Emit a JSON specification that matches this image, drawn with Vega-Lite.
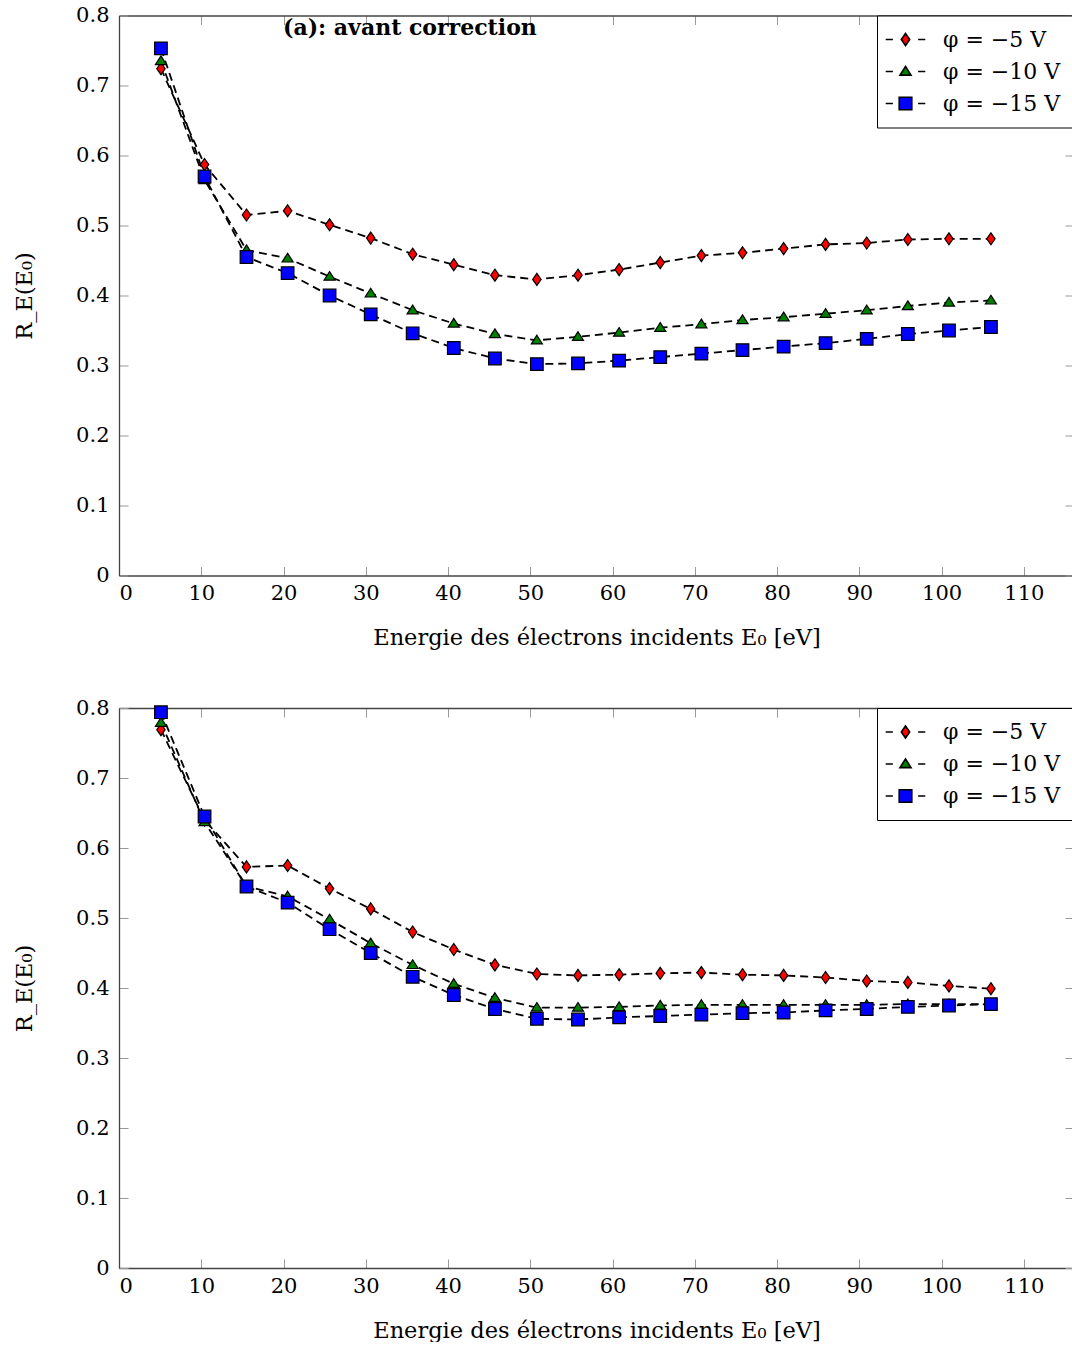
{
  "$schema": "https://vega.github.io/schema/vega-lite/v6.json",
  "padding": {"left": 13, "top": 4.5, "right": 0, "bottom": 0},
  "config": {
    "font": "DejaVu Serif",
    "view": {"stroke": null},
    "axis": {
      "labelFont": "DejaVu Serif", "titleFont": "DejaVu Serif",
      "labelFontSize": 21, "titleFontSize": 22.5, "labelColor": "black", "titleColor": "black",
      "titleFontWeight": "normal", "grid": false, "tickColor": "#999", "tickSize": -9, "tickWidth": 1,
      "domainColor": "#444", "domainWidth": 1.3
    },
    "legend": {
      "title": null, "orient": "top-right", "offset": 0, "padding": 13, "strokeColor": "black", "fillColor": "white",
      "labelFont": "DejaVu Serif", "labelFontSize": 22, "labelColor": "black",
      "symbolStrokeColor": "black", "symbolStrokeWidth": 1.6,
      "symbolOffset": 4.5, "labelOffset": 26.5, "rowPadding": 10
    }
  },
  "datasets": {
    "top": [
      {"serie": "φ = −5 V", "E": 5.1, "R": 0.724}, {"serie": "φ = −5 V", "E": 10.4, "R": 0.587}, {"serie": "φ = −5 V", "E": 15.5, "R": 0.515}, {"serie": "φ = −5 V", "E": 20.5, "R": 0.521}, {"serie": "φ = −5 V", "E": 25.6, "R": 0.501}, {"serie": "φ = −5 V", "E": 30.6, "R": 0.482}, {"serie": "φ = −5 V", "E": 35.7, "R": 0.459}, {"serie": "φ = −5 V", "E": 40.7, "R": 0.444}, {"serie": "φ = −5 V", "E": 45.7, "R": 0.429}, {"serie": "φ = −5 V", "E": 50.8, "R": 0.423}, {"serie": "φ = −5 V", "E": 55.8, "R": 0.429}, {"serie": "φ = −5 V", "E": 60.8, "R": 0.437}, {"serie": "φ = −5 V", "E": 65.8, "R": 0.447}, {"serie": "φ = −5 V", "E": 70.8, "R": 0.457}, {"serie": "φ = −5 V", "E": 75.8, "R": 0.461}, {"serie": "φ = −5 V", "E": 80.8, "R": 0.467}, {"serie": "φ = −5 V", "E": 85.9, "R": 0.473}, {"serie": "φ = −5 V", "E": 90.9, "R": 0.475}, {"serie": "φ = −5 V", "E": 95.9, "R": 0.480}, {"serie": "φ = −5 V", "E": 100.9, "R": 0.481}, {"serie": "φ = −5 V", "E": 106.0, "R": 0.481},
      {"serie": "φ = −10 V", "E": 5.1, "R": 0.735}, {"serie": "φ = −10 V", "E": 10.4, "R": 0.565}, {"serie": "φ = −10 V", "E": 15.5, "R": 0.465}, {"serie": "φ = −10 V", "E": 20.5, "R": 0.453}, {"serie": "φ = −10 V", "E": 25.6, "R": 0.427}, {"serie": "φ = −10 V", "E": 30.6, "R": 0.403}, {"serie": "φ = −10 V", "E": 35.7, "R": 0.379}, {"serie": "φ = −10 V", "E": 40.7, "R": 0.360}, {"serie": "φ = −10 V", "E": 45.7, "R": 0.345}, {"serie": "φ = −10 V", "E": 50.8, "R": 0.336}, {"serie": "φ = −10 V", "E": 55.8, "R": 0.341}, {"serie": "φ = −10 V", "E": 60.8, "R": 0.347}, {"serie": "φ = −10 V", "E": 65.8, "R": 0.354}, {"serie": "φ = −10 V", "E": 70.8, "R": 0.359}, {"serie": "φ = −10 V", "E": 75.8, "R": 0.365}, {"serie": "φ = −10 V", "E": 80.8, "R": 0.369}, {"serie": "φ = −10 V", "E": 85.9, "R": 0.374}, {"serie": "φ = −10 V", "E": 90.9, "R": 0.379}, {"serie": "φ = −10 V", "E": 95.9, "R": 0.385}, {"serie": "φ = −10 V", "E": 100.9, "R": 0.390}, {"serie": "φ = −10 V", "E": 106.0, "R": 0.393},
      {"serie": "φ = −15 V", "E": 5.1, "R": 0.753}, {"serie": "φ = −15 V", "E": 10.4, "R": 0.570}, {"serie": "φ = −15 V", "E": 15.5, "R": 0.455}, {"serie": "φ = −15 V", "E": 20.5, "R": 0.432}, {"serie": "φ = −15 V", "E": 25.6, "R": 0.400}, {"serie": "φ = −15 V", "E": 30.6, "R": 0.373}, {"serie": "φ = −15 V", "E": 35.7, "R": 0.346}, {"serie": "φ = −15 V", "E": 40.7, "R": 0.325}, {"serie": "φ = −15 V", "E": 45.7, "R": 0.310}, {"serie": "φ = −15 V", "E": 50.8, "R": 0.302}, {"serie": "φ = −15 V", "E": 55.8, "R": 0.303}, {"serie": "φ = −15 V", "E": 60.8, "R": 0.307}, {"serie": "φ = −15 V", "E": 65.8, "R": 0.312}, {"serie": "φ = −15 V", "E": 70.8, "R": 0.317}, {"serie": "φ = −15 V", "E": 75.8, "R": 0.322}, {"serie": "φ = −15 V", "E": 80.8, "R": 0.327}, {"serie": "φ = −15 V", "E": 85.9, "R": 0.332}, {"serie": "φ = −15 V", "E": 90.9, "R": 0.338}, {"serie": "φ = −15 V", "E": 95.9, "R": 0.345}, {"serie": "φ = −15 V", "E": 100.9, "R": 0.350}, {"serie": "φ = −15 V", "E": 106.0, "R": 0.355}
    ],
    "bottom": [
      {"serie": "φ = −5 V", "E": 5.1, "R": 0.769}, {"serie": "φ = −5 V", "E": 10.4, "R": 0.640}, {"serie": "φ = −5 V", "E": 15.5, "R": 0.573}, {"serie": "φ = −5 V", "E": 20.5, "R": 0.575}, {"serie": "φ = −5 V", "E": 25.6, "R": 0.542}, {"serie": "φ = −5 V", "E": 30.6, "R": 0.513}, {"serie": "φ = −5 V", "E": 35.7, "R": 0.480}, {"serie": "φ = −5 V", "E": 40.7, "R": 0.455}, {"serie": "φ = −5 V", "E": 45.7, "R": 0.433}, {"serie": "φ = −5 V", "E": 50.8, "R": 0.420}, {"serie": "φ = −5 V", "E": 55.8, "R": 0.418}, {"serie": "φ = −5 V", "E": 60.8, "R": 0.419}, {"serie": "φ = −5 V", "E": 65.8, "R": 0.421}, {"serie": "φ = −5 V", "E": 70.8, "R": 0.422}, {"serie": "φ = −5 V", "E": 75.8, "R": 0.419}, {"serie": "φ = −5 V", "E": 80.8, "R": 0.418}, {"serie": "φ = −5 V", "E": 85.9, "R": 0.415}, {"serie": "φ = −5 V", "E": 90.9, "R": 0.410}, {"serie": "φ = −5 V", "E": 95.9, "R": 0.408}, {"serie": "φ = −5 V", "E": 100.9, "R": 0.403}, {"serie": "φ = −5 V", "E": 106.0, "R": 0.399},
      {"serie": "φ = −10 V", "E": 5.1, "R": 0.779}, {"serie": "φ = −10 V", "E": 10.4, "R": 0.637}, {"serie": "φ = −10 V", "E": 15.5, "R": 0.545}, {"serie": "φ = −10 V", "E": 20.5, "R": 0.531}, {"serie": "φ = −10 V", "E": 25.6, "R": 0.498}, {"serie": "φ = −10 V", "E": 30.6, "R": 0.464}, {"serie": "φ = −10 V", "E": 35.7, "R": 0.433}, {"serie": "φ = −10 V", "E": 40.7, "R": 0.406}, {"serie": "φ = −10 V", "E": 45.7, "R": 0.386}, {"serie": "φ = −10 V", "E": 50.8, "R": 0.372}, {"serie": "φ = −10 V", "E": 55.8, "R": 0.372}, {"serie": "φ = −10 V", "E": 60.8, "R": 0.373}, {"serie": "φ = −10 V", "E": 65.8, "R": 0.375}, {"serie": "φ = −10 V", "E": 70.8, "R": 0.376}, {"serie": "φ = −10 V", "E": 75.8, "R": 0.376}, {"serie": "φ = −10 V", "E": 80.8, "R": 0.376}, {"serie": "φ = −10 V", "E": 85.9, "R": 0.376}, {"serie": "φ = −10 V", "E": 90.9, "R": 0.376}, {"serie": "φ = −10 V", "E": 95.9, "R": 0.377}, {"serie": "φ = −10 V", "E": 100.9, "R": 0.377}, {"serie": "φ = −10 V", "E": 106.0, "R": 0.377},
      {"serie": "φ = −15 V", "E": 5.1, "R": 0.794}, {"serie": "φ = −15 V", "E": 10.4, "R": 0.645}, {"serie": "φ = −15 V", "E": 15.5, "R": 0.545}, {"serie": "φ = −15 V", "E": 20.5, "R": 0.522}, {"serie": "φ = −15 V", "E": 25.6, "R": 0.484}, {"serie": "φ = −15 V", "E": 30.6, "R": 0.450}, {"serie": "φ = −15 V", "E": 35.7, "R": 0.416}, {"serie": "φ = −15 V", "E": 40.7, "R": 0.390}, {"serie": "φ = −15 V", "E": 45.7, "R": 0.370}, {"serie": "φ = −15 V", "E": 50.8, "R": 0.356}, {"serie": "φ = −15 V", "E": 55.8, "R": 0.355}, {"serie": "φ = −15 V", "E": 60.8, "R": 0.358}, {"serie": "φ = −15 V", "E": 65.8, "R": 0.360}, {"serie": "φ = −15 V", "E": 70.8, "R": 0.362}, {"serie": "φ = −15 V", "E": 75.8, "R": 0.364}, {"serie": "φ = −15 V", "E": 80.8, "R": 0.365}, {"serie": "φ = −15 V", "E": 85.9, "R": 0.368}, {"serie": "φ = −15 V", "E": 90.9, "R": 0.370}, {"serie": "φ = −15 V", "E": 95.9, "R": 0.373}, {"serie": "φ = −15 V", "E": 100.9, "R": 0.375}, {"serie": "φ = −15 V", "E": 106.0, "R": 0.377}
    ]
  },
  "spacing": 47.5,
  "resolve": {"scale": {"shape": "independent", "fill": "independent"}},
  "vconcat": [
    {
      "width": 955, "height": 560,
      "title": {"text": "(a): avant correction", "anchor": "start", "frame": "group", "dx": 164, "offset": -35, "fontSize": 22, "fontWeight": "bold", "font": "DejaVu Serif", "color": "black"},
      "data": {"name": "top"},
      "layer": [
        {
          "mark": {"type": "line", "stroke": "black", "strokeWidth": 1.8, "strokeDash": [8, 5]},
          "encoding": {
            "x": {"field": "E", "type": "quantitative", "scale": {"domain": [0, 116.1], "nice": false, "zero": false},
                  "axis": {"values": [0, 10, 20, 30, 40, 50, 60, 70, 80, 90, 100, 110], "title": "Energie des électrons incidents E₀ [eV]", "labelPadding": 16, "titlePadding": 23}},
            "y": {"field": "R", "type": "quantitative", "scale": {"domain": [0, 0.8], "nice": false},
                  "axis": {"values": [0, 0.1, 0.2, 0.3, 0.4, 0.5, 0.6, 0.7, 0.8], "format": "~g", "title": "R_E(E₀)", "labelPadding": 19, "titlePadding": 39}},
            "detail": {"field": "serie"}
          }
        },
        {
          "mark": {"type": "point", "filled": true, "stroke": "black", "strokeWidth": 1.2, "size": 144, "opacity": 1},
          "encoding": {
            "x": {"field": "E", "type": "quantitative", "axis": {"orient": "top", "labels": false, "title": null, "values": [0, 10, 20, 30, 40, 50, 60, 70, 80, 90, 100, 110]}},
            "y": {"field": "R", "type": "quantitative", "axis": {"orient": "right", "labels": false, "title": null, "values": [0, 0.1, 0.2, 0.3, 0.4, 0.5, 0.6, 0.7, 0.8]}},
            "shape": {"field": "serie", "type": "nominal", "legend": null,
                      "scale": {"domain": ["φ = −15 V", "φ = −10 V", "φ = −5 V"], "range": ["M -1.05 -1.05 L 1.05 -1.05 L 1.05 1.05 L -1.05 1.05 Z", "M 0 -0.85 L 0.92 0.6 L -0.92 0.6 Z", "M 0 -1 L 0.7 0 L 0 1 L -0.7 0 Z"]}},
            "fill": {"field": "serie", "type": "nominal",
                     "scale": {"domain": ["φ = −5 V", "φ = −10 V", "φ = −15 V"], "range": ["#ff0000", "#008000", "#0000ff"]},
                     "legend": {"symbolSize": 144,
                        "symbolType": {"expr": "datum.value === 'φ = −5 V' ? 'M -3.3 0 L -2.1 0 M 2.1 0 L 3.3 0 M 0 -1 L 0.7 0 L 0 1 L -0.7 0 Z' : datum.value === 'φ = −10 V' ? 'M -3.3 0 L -2.1 0 M 2.1 0 L 3.3 0 M 0 -0.85 L 0.92 0.6 L -0.92 0.6 Z' : 'M -3.3 0 L -2.1 0 M 2.1 0 L 3.3 0 M -1.05 -1.05 L 1.05 -1.05 L 1.05 1.05 L -1.05 1.05 Z'"}}}
          }
        }
      ],
      "resolve": {"axis": {"x": "independent", "y": "independent"}}
    },
    {
      "width": 955, "height": 560,
      "data": {"name": "bottom"},
      "layer": [
        {
          "mark": {"type": "line", "stroke": "black", "strokeWidth": 1.8, "strokeDash": [8, 5]},
          "encoding": {
            "x": {"field": "E", "type": "quantitative", "scale": {"domain": [0, 116.1], "nice": false, "zero": false},
                  "axis": {"values": [0, 10, 20, 30, 40, 50, 60, 70, 80, 90, 100, 110], "title": "Energie des électrons incidents E₀ [eV]", "labelPadding": 16, "titlePadding": 23}},
            "y": {"field": "R", "type": "quantitative", "scale": {"domain": [0, 0.8], "nice": false},
                  "axis": {"values": [0, 0.1, 0.2, 0.3, 0.4, 0.5, 0.6, 0.7, 0.8], "format": "~g", "title": "R_E(E₀)", "labelPadding": 19, "titlePadding": 39}},
            "detail": {"field": "serie"}
          }
        },
        {
          "mark": {"type": "point", "filled": true, "stroke": "black", "strokeWidth": 1.2, "size": 144, "opacity": 1},
          "encoding": {
            "x": {"field": "E", "type": "quantitative", "axis": {"orient": "top", "labels": false, "title": null, "values": [0, 10, 20, 30, 40, 50, 60, 70, 80, 90, 100, 110]}},
            "y": {"field": "R", "type": "quantitative", "axis": {"orient": "right", "labels": false, "title": null, "values": [0, 0.1, 0.2, 0.3, 0.4, 0.5, 0.6, 0.7, 0.8]}},
            "shape": {"field": "serie", "type": "nominal", "legend": null,
                      "scale": {"domain": ["φ = −15 V", "φ = −10 V", "φ = −5 V"], "range": ["M -1.05 -1.05 L 1.05 -1.05 L 1.05 1.05 L -1.05 1.05 Z", "M 0 -0.85 L 0.92 0.6 L -0.92 0.6 Z", "M 0 -1 L 0.7 0 L 0 1 L -0.7 0 Z"]}},
            "fill": {"field": "serie", "type": "nominal",
                     "scale": {"domain": ["φ = −5 V", "φ = −10 V", "φ = −15 V"], "range": ["#ff0000", "#008000", "#0000ff"]},
                     "legend": {"symbolSize": 144,
                        "symbolType": {"expr": "datum.value === 'φ = −5 V' ? 'M -3.3 0 L -2.1 0 M 2.1 0 L 3.3 0 M 0 -1 L 0.7 0 L 0 1 L -0.7 0 Z' : datum.value === 'φ = −10 V' ? 'M -3.3 0 L -2.1 0 M 2.1 0 L 3.3 0 M 0 -0.85 L 0.92 0.6 L -0.92 0.6 Z' : 'M -3.3 0 L -2.1 0 M 2.1 0 L 3.3 0 M -1.05 -1.05 L 1.05 -1.05 L 1.05 1.05 L -1.05 1.05 Z'"}}}
          }
        }
      ],
      "resolve": {"axis": {"x": "independent", "y": "independent"}}
    }
  ]
}
